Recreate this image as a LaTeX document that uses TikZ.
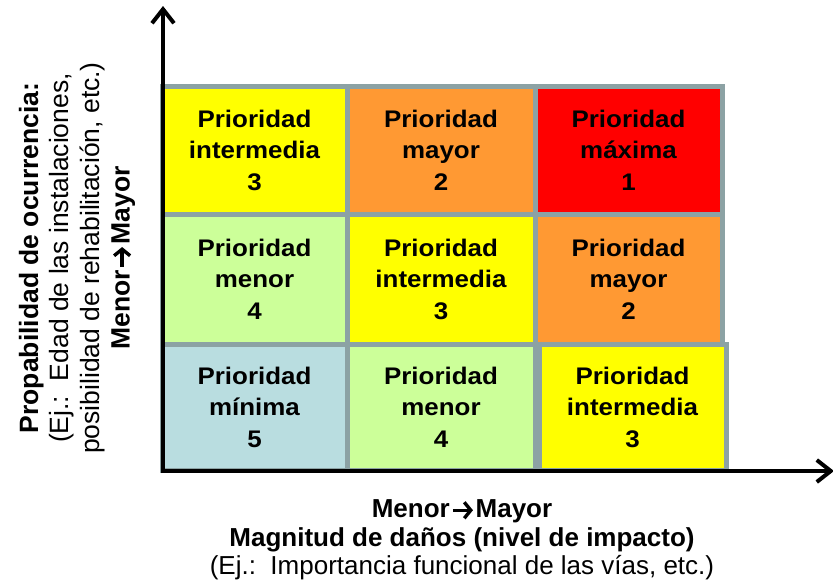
\documentclass[tikz,border=0pt]{standalone}
\usepackage{fontspec}
\setmainfont{Liberation Sans}
\newfontfamily\cellfont[FakeStretch=1.08]{Liberation Sans}
\usetikzlibrary{arrows.meta}
\definecolor{cellgray}{RGB}{140,162,164}
\definecolor{cyellow}{RGB}{255,255,0}
\definecolor{corange}{RGB}{255,153,51}
\definecolor{cred}{RGB}{255,0,0}
\definecolor{cgreen}{RGB}{204,255,153}
\definecolor{cblue}{RGB}{185,221,224}
\newcommand{\thickarrow}{\kern1.5pt\tikz[baseline=0pt,x=1pt,y=1pt]\draw[line width=3.4pt,-{Straight Barb[length=6.5pt,width=16pt]}] (0,7.5) -- (20,7.5);\kern1pt}
\begin{document}
\begin{tikzpicture}[x=1pt,y=-1pt,
  cell/.style={draw=cellgray, line width=5pt, rectangle, inner sep=0pt, align=center,
    font=\cellfont\bfseries\fontsize{24}{31.5}\selectfont},
  axisline/.style={line width=4pt, -{Straight Barb[length=14pt,width=22pt]}},
  sidelabel/.style={align=center, inner sep=0pt, font=\fontsize{26.5}{30.5}\selectfont},
  bottomlabel/.style={align=center, inner sep=0pt, font=\fontsize{26}{28.5}\selectfont}]
\useasboundingbox (0,0) rectangle (833,584);
% row 1
\node[cell, fill=cyellow, minimum width=185pt, minimum height=127.5pt] (c11) at (254.5,150.25) {Prioridad\\intermedia\\3};
\node[cell, fill=corange, minimum width=188pt, minimum height=127.5pt] (c12) at (441,150.25) {Prioridad\\mayor\\2};
\node[cell, fill=cred, minimum width=187pt, minimum height=127.5pt] (c13) at (628.5,150.25) {Prioridad\\máxima\\1};
% row 2
\node[cell, fill=cgreen, minimum width=185pt, minimum height=130pt] (c21) at (254.5,279) {Prioridad\\menor\\4};
\node[cell, fill=cyellow, minimum width=188pt, minimum height=130pt] (c22) at (441,279) {Prioridad\\intermedia\\3};
\node[cell, fill=corange, minimum width=187pt, minimum height=130pt] (c23) at (628.5,279) {Prioridad\\mayor\\2};
% row 3
\node[cell, fill=cblue, minimum width=185pt, minimum height=126pt] (c31) at (254.5,407) {Prioridad\\mínima\\5};
\node[cell, fill=cgreen, minimum width=188pt, minimum height=126pt] (c32) at (441,407) {Prioridad\\menor\\4};
\node[cell, fill=cyellow, minimum width=187pt, minimum height=126pt] (c33) at (632.5,407) {Prioridad\\intermedia\\3};
% axes
\coordinate (org) at (163,473);
\coordinate (ytop) at (163,6);
\coordinate (xorg) at (161,471);
\coordinate (xend) at (834,471);
\draw[axisline] (org) -- (ytop);
\draw[axisline] (xorg) -- (xend);
% side label
\node[sidelabel, rotate=90] (ylab) at (77,258) {\textbf{Propabilidad de ocurrencia:}\\(Ej.:\ \ Edad de las instalaciones,\\posibilidad de rehabilitación, etc.)\\\textbf{Menor\thickarrow Mayor}};
% bottom label
\node[bottomlabel] (xlab) at (462,540) {\textbf{Menor\thickarrow Mayor}\\\textbf{Magnitud de daños (nivel de impacto)}\\(Ej.:\ \ Importancia funcional de las vías, etc.)};
\end{tikzpicture}
\end{document}
